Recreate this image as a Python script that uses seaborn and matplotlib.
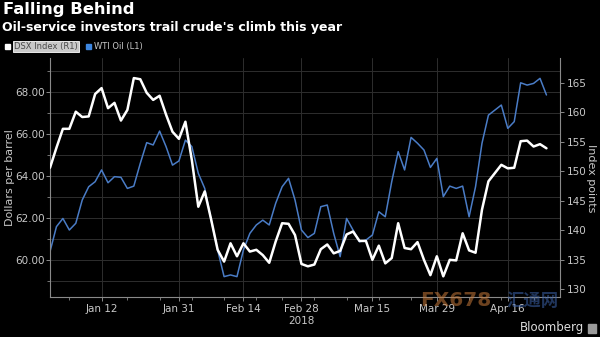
import numpy as np
import pandas as pd
import matplotlib
matplotlib.use("Agg")
import matplotlib.pyplot as plt
from matplotlib.patches import Rectangle
from matplotlib.ticker import MultipleLocator, FixedLocator
import seaborn as sns

# Trading days, Jan 2 - Apr 24, 2018 (NYSE holidays removed)
dates = pd.bdate_range("2018-01-02", "2018-04-24", freq="C",
                       holidays=["2018-01-15", "2018-02-19", "2018-03-30"])

# OSX index level (right axis)
dsx = [150.6, 154.0, 157.2, 157.2, 160.1, 159.2, 159.3, 163.1, 164.1, 160.7,
       161.6, 158.6, 160.4, 165.8, 165.6, 163.3, 162.1, 162.8, 159.6, 156.7,
       155.5, 158.4, 151.9, 144.0, 146.6, 141.8, 136.7, 134.7, 137.8, 135.6,
       137.8, 136.4, 136.7, 135.8, 134.5, 138.1, 141.2, 141.1, 139.2, 134.3,
       133.9, 134.2, 136.8, 137.6, 136.1, 136.5, 139.3, 139.8, 138.2, 138.2,
       135.0, 137.4, 134.4, 135.3, 141.2, 137.0, 136.8, 138.0, 135.0, 132.4,
       135.6, 132.2, 135.0, 134.9, 139.5, 136.6, 136.2, 143.5, 148.3, 149.7,
       151.1, 150.5, 150.6, 155.1, 155.2, 154.2, 154.6, 153.9]

# WTI crude, dollars per barrel (left axis)
wti = [60.40, 61.59, 61.98, 61.43, 61.75, 62.86, 63.49, 63.73, 64.29, 63.68,
       63.97, 63.94, 63.41, 63.52, 64.60, 65.59, 65.48, 66.14, 65.40, 64.52,
       64.72, 65.71, 65.40, 64.13, 63.41, 61.90, 60.48, 59.21, 59.29, 59.21,
       60.48, 61.27, 61.67, 61.90, 61.67, 62.70, 63.49, 63.89, 62.86, 61.43,
       61.07, 61.27, 62.54, 62.62, 61.27, 60.16, 61.98, 61.43, 60.87, 60.95,
       61.19, 62.30, 62.06, 63.73, 65.16, 64.29, 65.84, 65.56, 65.24, 64.41,
       64.84, 63.02, 63.52, 63.41, 63.52, 62.06, 63.49, 65.56, 66.90, 67.14,
       67.38, 66.27, 66.59, 68.44, 68.33, 68.41, 68.65, 67.86]

tick_dates = ["2018-01-12", "2018-01-31", "2018-02-14", "2018-02-28",
              "2018-03-15", "2018-03-29", "2018-04-16"]
tick_labels = ["Jan 12", "Jan 31", "Feb 14", "Feb 28\n2018",
               "Mar 15", "Mar 29", "Apr 16"]
left_ticks = [60, 62, 64, 66, 68]
right_ticks = [130, 135, 140, 145, 150, 155, 160, 165]

df = pd.DataFrame({"day": np.arange(len(dates)), "date": dates,
                   "dsx": dsx, "wti": wti})
tick_pos = [int(np.where(dates == pd.Timestamp(d))[0][0]) for d in tick_dates]
friday_pos = [i for i, d in enumerate(dates) if d.weekday() == 4]

sns.set_theme(style="dark")
plt.rcParams["font.family"] = ["DejaVu Sans"]

BG = "#000000"
GRID = "#2e2e2e"
AXC = "#8a8a8a"
TXT = "#c8c8c8"
BLUE = "#4a7cc6"

fig = plt.figure(figsize=(6.0, 3.37), dpi=100, facecolor=BG)
ax = fig.add_axes([50 / 600, 1 - 297 / 337, 510 / 600, 239 / 337])
ax.set_facecolor(BG)
ax2 = ax.twinx()

sns.lineplot(data=df, x="day", y="wti", ax=ax, color=BLUE, linewidth=1.1)
sns.lineplot(data=df, x="day", y="dsx", ax=ax2, color="white", linewidth=1.8)

ax.set_xlim(0, 79.1)
ax.set_ylim(58.24, 69.62)
ax2.set_ylim(128.7, 169.2)

ax.set_xticks(tick_pos)
ax.set_xticklabels(tick_labels)
ax.xaxis.set_minor_locator(FixedLocator(friday_pos))
ax.set_yticks(left_ticks)
ax.set_yticklabels([f"{v:.2f}" for v in left_ticks])
ax.yaxis.set_minor_locator(MultipleLocator(1))
ax2.set_yticks(right_ticks)

for a in (ax, ax2):
    a.set_xlabel("")
    a.set_ylabel("")
    for s in a.spines.values():
        s.set_visible(False)

ax.spines["left"].set_visible(True)
ax.spines["bottom"].set_visible(True)
ax2.spines["right"].set_visible(True)
for s in (ax.spines["left"], ax.spines["bottom"], ax2.spines["right"]):
    s.set_color(AXC)
    s.set_linewidth(0.8)

ax.grid(False)
ax2.grid(False)
ax.yaxis.grid(True, which="both", color=GRID, linewidth=0.7)
ax.xaxis.grid(True, which="major", color=GRID, linewidth=0.7)
ax.set_axisbelow(True)

ax.tick_params(axis="x", which="major", colors=AXC, labelcolor=TXT,
               labelsize=7.5, length=3, width=0.7, pad=2, bottom=True)
ax.tick_params(axis="x", which="minor", colors=AXC, length=2, width=0.6,
               bottom=True)
ax.tick_params(axis="y", which="major", colors=AXC, labelcolor=TXT,
               labelsize=7.5, length=3, width=0.7, pad=1, left=True)
ax.tick_params(axis="y", which="minor", colors=AXC, length=2, width=0.6,
               left=True)
ax2.tick_params(axis="y", which="major", colors=AXC, labelcolor=TXT,
                labelsize=7.5, length=3, width=0.7, pad=2, right=True)

# Titles
fig.text(3 / 600, 1 - 2 / 337, "Falling Behind", color="white",
         fontsize=11.8, fontweight="bold", ha="left", va="top")
fig.text(2 / 600, 1 - 21 / 337,
         "Oil-service investors trail crude's climb this year",
         color="white", fontsize=9, fontweight="bold", ha="left", va="top")

# Legend row
fig.patches.append(Rectangle((5 / 600, 1 - 49 / 337), 5 / 600, 5 / 337,
                             transform=fig.transFigure, color="white"))
fig.text(14 / 600, 1 - 46.5 / 337, "DSX Index (R1)", color="#4a4a4a",
         fontsize=6, ha="left", va="center",
         bbox=dict(boxstyle="square,pad=0.15", facecolor="#c9c9c9",
                   edgecolor="white", linewidth=0.6))
fig.patches.append(Rectangle((86 / 600, 1 - 49 / 337), 5 / 600, 5 / 337,
                             transform=fig.transFigure, color="#3d86e0"))
fig.text(94 / 600, 1 - 46.5 / 337, "WTI Oil (L1)", color=TXT,
         fontsize=6, ha="left", va="center")

# Axis titles
fig.text(10 / 600, 1 - 178 / 337, "Dollars per barrel", color=TXT,
         fontsize=8, rotation=90, ha="center", va="center")
fig.text(591 / 600, 1 - 178 / 337, "Index points", color=TXT,
         fontsize=8, rotation=270, ha="center", va="center")

# Source mark
fig.text(584 / 600, 1 - 328 / 337, "Bloomberg", color="#dddddd",
         fontsize=8.5, ha="right", va="center")
fig.patches.append(Rectangle((588 / 600, 1 - 333 / 337), 8 / 600, 9 / 337,
                             transform=fig.transFigure, color="#9a9a9a"))

# Site watermark
fig.text(420 / 600, 1 - 301 / 337, "FX678", color="#c87a3a", alpha=0.55,
         fontsize=14.5, fontweight="bold", ha="left", va="center", zorder=10)
fig.text(507 / 600, 1 - 301 / 337, "汇通网", color="#3b62a8", alpha=0.55,
         fontsize=12.5, fontweight="bold", ha="left", va="center", zorder=10,
         family=["Noto Sans CJK SC", "DejaVu Sans"])

fig.savefig("out.png", dpi=100, facecolor=BG)
